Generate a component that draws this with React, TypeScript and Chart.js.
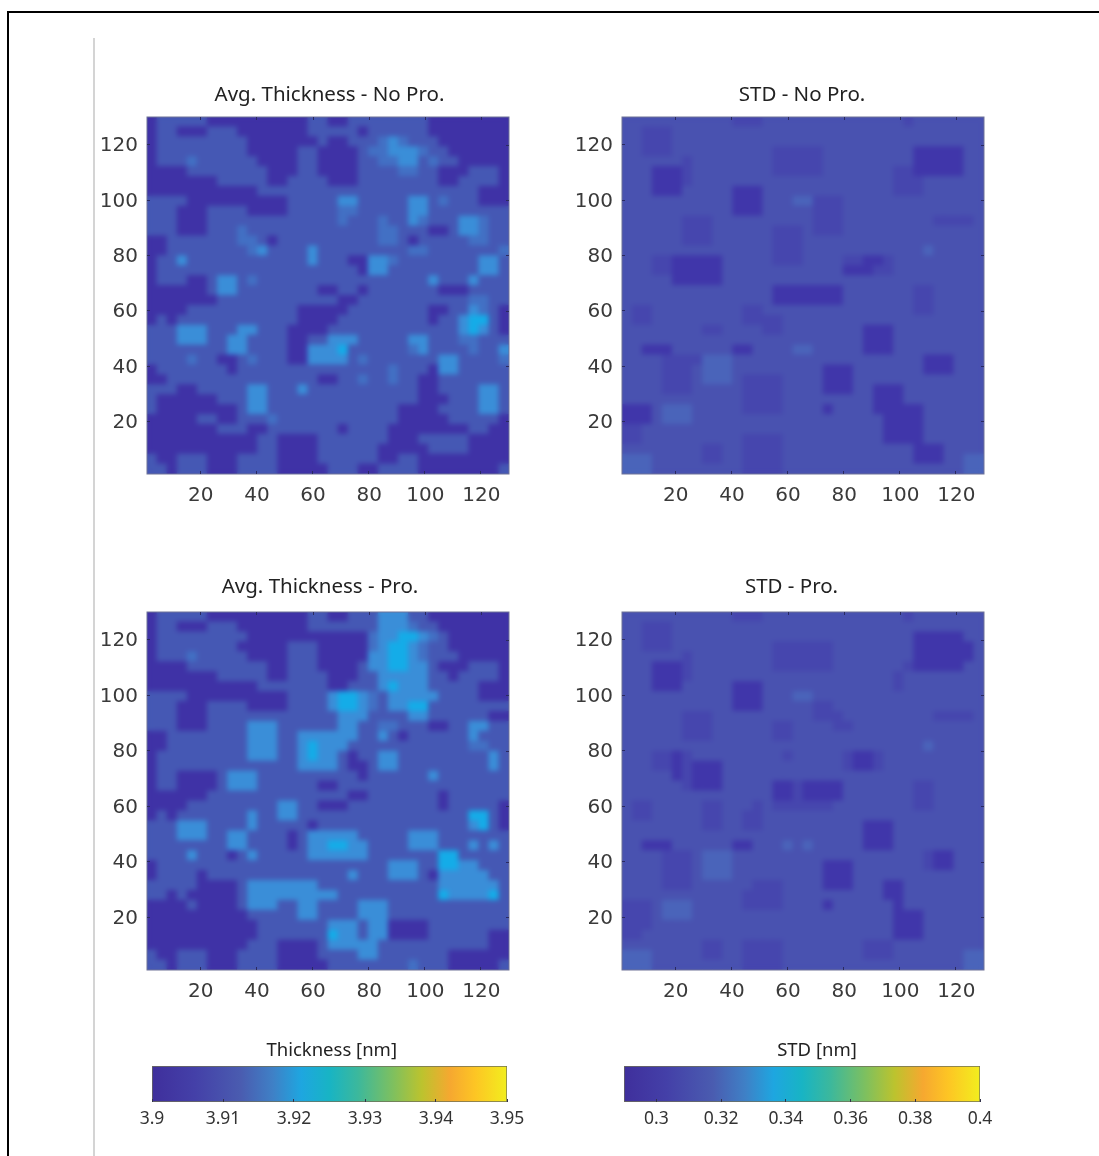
import React, { useEffect, useRef } from "react";
import { Chart, registerables } from "chart.js";

Chart.register(...registerables);

const axisTicks = [20, 40, 60, 80, 100, 120];
const thicknessTicks = [3.9, 3.91, 3.92, 3.93, 3.94, 3.95];
const stdTicks = [0.3, 0.32, 0.34, 0.36, 0.38, 0.4];
const thicknessRange = [3.9, 3.95];
const stdRange = [0.29, 0.4];

const rampStops = [0, 0.12, 0.25, 0.34, 0.42, 0.5, 0.58, 0.68, 0.76, 0.84, 0.91, 1];
const rampColors = ["#3f2f9c", "#4440a8", "#4a5cb0", "#3f80c6", "#1ea6e0", "#18b4c4", "#3cb89c", "#7fc05e", "#bcc32e", "#f6a830", "#fdc524", "#f2ee1e"];

const thicknessLevels = ["#3f32a6", "#4558b4", "#4270c4", "#3a8ed8", "#14ace8"];
const stdLevels = ["#4036aa", "#4646ae", "#4952b0", "#4a64ba"];

const avgNoPro = [
"011111 000000 000011 001111 111100 000000",
"011000 111000 000011 111011 111100 000000",
"011111 111100 000001 001112 321110 000000",
"011111 111100 000110 000122 333211 000000",
"011121 111110 000110 000112 233121 100000",
"000011 111111 000110 000111 122110 001110",
"000000 011111 001111 000111 111110 011110",
"000000 000001 111111 111111 111111 111000",
"111100 000000 001111 133111 113312 111000",
"111000 111100 001111 122111 113311 111111",
"111000 111111 111111 121112 113211 133211",
"111000 111211 111111 111112 211100 133211",
"001111 111221 011111 111112 210111 112211",
"001111 111123 111131 111111 112211 111112",
"011311 111111 111131 110033 211111 111331",
"011111 111111 111111 111033 111111 111331",
"011100 133121 111111 111111 111131 113111",
"000000 133111 111110 011011 111110 001111",
"000000 011111 111111 100111 111111 112211",
"000011 111111 111000 001111 111100 113210",
"010111 111111 111000 011111 111101 134410",
"111333 111331 110000 111111 111111 134310",
"111333 113311 110011 333111 113311 122111",
"111111 113311 110033 341111 112311 112113",
"111121 100121 110033 331211 111113 311112",
"011111 110111 111111 111111 211103 311111",
"001111 111111 111110 011211 211001 111111",
"111001 111133 111311 111111 111001 111331",
"100000 011133 111111 111111 111000 111331",
"100000 000133 111111 111111 100001 111331",
"000001 100111 211111 111111 100000 111110",
"000000 011100 111111 101111 000000 001100",
"000000 000001 100001 111111 000111 110000",
"000000 000001 100001 111110 000011 110000",
"100111 000111 100001 111110 011000 000000",
"110111 000111 100000 111001 111000 000001",
];

const avgPro = [
"011111 000000 000011 001113 331100 000000",
"011000 111000 000011 111113 332110 000000",
"011111 111100 000000 000023 344321 000000",
"011111 111000 001110 000023 443211 000000",
"011121 111100 001110 000033 443211 100000",
"000011 111111 001110 000133 443310 001110",
"000000 011111 001111 000113 333311 011110",
"000000 000001 111111 001113 433311 111000",
"111100 000000 001111 344321 333331 111000",
"111000 111100 001111 344321 334411 111111",
"111000 111111 111111 133311 113311 111100",
"111000 111133 311111 133112 211100 113311",
"001111 111133 311333 333113 101111 113111",
"001111 111133 311343 331111 111111 112211",
"011111 111133 311343 310113 311111 111131",
"011111 111111 111333 310013 311111 111131",
"011000 013331 111111 111011 111131 111111",
"011000 013331 111110 011111 111111 111111",
"000000 111111 111111 110011 111110 111111",
"000011 111111 133110 001111 111110 111110",
"010111 111131 133111 111111 111111 114410",
"111333 111131 111101 111111 111111 113410",
"111333 113311 110133 333111 113331 111111",
"111111 113311 110133 443311 113331 113131",
"111131 110131 111133 333311 111114 411111",
"011111 111111 111111 111111 333114 433111",
"011110 111111 111111 113111 333103 333311",
"111110 000133 333331 111111 111113 333331",
"110100 000133 333333 311111 111114 333341",
"000010 000133 311331 111333 111111 111111",
"000000 000011 111331 111333 111111 111111",
"000000 000001 111111 333133 000011 111111",
"000000 000001 111111 433133 000011 111100",
"000000 000011 100001 333331 111111 111100",
"100111 000111 100001 111331 111111 000000",
"110111 000111 100000 111111 112111 000001",
];

const stdNoPro = [
"222222 222221 112222 222222 222212 222222",
"221112 222222 222222 222222 222222 222222",
"221112 222222 222222 222222 222222 222222",
"221112 222222 222111 112222 222220 000022",
"222222 122222 222111 112222 222220 000022",
"222000 122222 222111 112222 222110 000022",
"222000 122222 222222 222222 222111 222222",
"222000 222220 002222 222222 222111 222222",
"222222 222220 002223 311122 222222 222222",
"222222 222220 002222 211122 222222 222222",
"222222 111222 222222 211122 222222 211112",
"222222 111222 222111 211122 222222 222222",
"222222 111222 222111 222222 222222 222222",
"222222 222222 222111 222222 222222 322222",
"222110 000022 222111 222211 001222 222222",
"222110 000022 222222 222200 011222 222222",
"222220 000022 222222 222222 222222 222222",
"222222 222222 222000 000022 222221 122222",
"222222 222222 222000 000022 222221 122222",
"211222 222222 112222 222222 222221 122222",
"211222 222222 111122 222222 222222 222222",
"222222 221122 221122 222222 000222 222222",
"222222 222222 222222 222222 000222 222222",
"220002 222220 022223 322222 000222 222222",
"222211 113332 222222 222222 222222 000222",
"222211 123332 222222 220002 222222 000222",
"222211 123332 111122 220002 222222 222222",
"222211 122222 111122 220002 200022 222222",
"222222 222222 111122 222222 200022 222222",
"000233 322222 111122 220222 200000 222222",
"000233 322222 222222 222222 220000 222222",
"112222 222222 222222 222222 220000 222222",
"112222 222222 111122 222222 220000 222222",
"222222 221122 111122 222222 222220 002222",
"333222 221122 111122 222222 222220 002233",
"333222 222222 111122 222222 222222 222233",
];

const stdPro = [
"222222 222221 112222 222222 222212 222222",
"221112 222222 222222 222222 222222 222222",
"221112 222222 222222 222222 222220 000022",
"221112 222222 222111 111222 222220 000002",
"222222 122222 222111 111222 222220 000002",
"222000 122222 222111 111222 222210 000022",
"222000 122222 222222 222222 222122 222222",
"222000 222220 002222 222222 222122 222222",
"222222 222220 002223 322222 222222 222222",
"222222 222220 002222 211222 222222 222222",
"222222 111222 222222 211122 222222 211112",
"222222 111222 222112 222112 222222 222222",
"222222 111222 222112 222222 222222 222222",
"222222 222222 222222 222222 222222 322222",
"222110 122222 222212 222210 012222 222222",
"222110 100022 222222 222210 012222 222222",
"222220 100022 222222 222222 222222 222222",
"222222 100022 222001 000022 222221 122222",
"222222 222222 222001 000022 222221 122222",
"211222 221122 212111 111222 222221 122222",
"211222 221122 112222 222222 222222 222222",
"222222 221122 112222 222222 000222 222222",
"222222 222222 222222 222222 000222 222222",
"220002 222220 022232 322222 000222 222222",
"222211 123332 222222 222222 222222 100222",
"222211 123332 222222 220002 222222 100222",
"222211 123332 222222 220002 222222 222222",
"222211 122222 211122 220002 220022 222222",
"222222 222222 111122 222222 220022 222222",
"111233 322222 111122 220222 222022 222222",
"111233 322222 222222 222222 222000 222222",
"111222 222222 222222 222222 222000 222222",
"112222 222222 222222 222222 222000 222222",
"222222 221122 111122 222222 111222 222222",
"333222 221122 111122 222222 111222 222233",
"333222 222222 111122 222222 222222 222233",
];

const panelTitles = ["Avg. Thickness - No Pro.", "STD - No Pro.", "Avg. Thickness - Pro.", "STD - Pro."];

const titleFont = '"Noto Sans", sans-serif';
const tickFont = '"DejaVu Sans", sans-serif';

function textPlugin(text: string, x: number, y: number, size: number) {
  return {
    id: "placedTitle",
    afterDraw(chart: any) {
      const { ctx } = chart;
      ctx.save();
      ctx.font = `${size}px ${titleFont}`;
      ctx.fillStyle = "#222";
      ctx.textAlign = "center";
      ctx.textBaseline = "middle";
      ctx.fillText(text, x, y);
      ctx.restore();
    },
  };
}

function softPlugin(color: string, blur: number) {
  return {
    id: "softCells",
    afterDatasetsDraw(chart: any) {
      const { ctx, chartArea: a, scales } = chart;
      const w = a.right - a.left;
      const h = a.bottom - a.top;
      ctx.save();
      ctx.beginPath();
      ctx.rect(a.left, a.top, w, h);
      ctx.clip();
      ctx.filter = `blur(${blur}px)`;
      ctx.drawImage(ctx.canvas, a.left, a.top, w, h, a.left, a.top, w, h);
      ctx.restore();
      ctx.save();
      ctx.strokeStyle = color;
      ctx.lineWidth = 1;
      ctx.strokeRect(a.left, a.top, w, h);
      ctx.strokeStyle = "#2a2a60";
      ctx.beginPath();
      axisTicks.forEach((t) => {
        const x = Math.round(scales.x.getPixelForValue(t)) + 0.5;
        const y = Math.round(scales.y.getPixelForValue(t)) + 0.5;
        ctx.moveTo(x, a.top);
        ctx.lineTo(x, a.top + 3);
        ctx.moveTo(a.right, y);
        ctx.lineTo(a.right - 3, y);
      });
      ctx.stroke();
      ctx.restore();
    },
  };
}

function Heatmap({ rows, levels, title, left, top, areaW, areaH, titleCx, titleCy }: any) {
  const ref = useRef<HTMLCanvasElement>(null);
  const gutter = 57;
  const headH = 42;
  const footH = 40;
  const width = gutter + areaW + 10;
  const height = headH + areaH + footH;
  useEffect(() => {
    const grid: string[] = rows.map((r: string) => r.replace(/ /g, ""));
    const n = grid.length;
    const span = 129 / n;
    const points: { x: number; y: number }[] = [];
    const colors: string[] = [];
    grid.forEach((row, r) => {
      row.split("").forEach((ch, c) => {
        points.push({ x: 1 + (c + 0.5) * span, y: 130 - (r + 0.5) * span });
        colors.push(levels[Number(ch)]);
      });
    });
    const chart = new Chart(ref.current as HTMLCanvasElement, {
      type: "scatter",
      data: {
        datasets: [
          {
            data: points,
            clip: 0,
            pointStyle: "rect",
            pointBorderWidth: 0,
            pointBackgroundColor: colors,
            pointRadius: (c: any) => {
              const sx = c.chart.scales.x;
              return ((Math.abs(sx.getPixelForValue(1 + span) - sx.getPixelForValue(1)) + 0.8) / 2) * Math.SQRT2;
            },
          } as any,
        ],
      },
      options: {
        responsive: false,
        animation: false,
        events: [],
        layout: { padding: { left: 0, right: width - gutter - areaW, top: headH, bottom: 0 } },
        plugins: {
          legend: { display: false },
          tooltip: { enabled: false },
          title: { display: false },
        },
        scales: {
          x: {
            type: "linear",
            min: 1,
            max: 130,
            afterFit: (s: any) => { s.height = footH; },
            afterBuildTicks: (s: any) => { s.ticks = axisTicks.map((value) => ({ value })); },
            border: { display: false },
            grid: { display: true, drawOnChartArea: false, z: 1, tickLength: -3, tickColor: "#2a2a60" },
            ticks: { color: "#3a3a3a", padding: 13, maxRotation: 0, labelOffset: 0.5, font: { family: tickFont, size: 20 } },
          },
          y: {
            type: "linear",
            min: 1,
            max: 130,
            afterFit: (s: any) => { s.width = gutter; },
            afterBuildTicks: (s: any) => { s.ticks = axisTicks.map((value) => ({ value })); },
            border: { display: false },
            grid: { display: true, drawOnChartArea: false, z: 1, tickLength: -3, tickColor: "#2a2a60" },
            ticks: { color: "#3a3a3a", padding: 12, labelOffset: 1.5, font: { family: tickFont, size: 20 } },
          },
        },
      },
      plugins: [softPlugin("#6f7398", 2.6), textPlugin(title, titleCx - left, titleCy - (top - headH), 20.5)],
    } as any);
    return () => chart.destroy();
  }, []);
  return (
    <canvas
      ref={ref}
      width={width}
      height={height}
      style={{ position: "absolute", left, top: top - headH, width, height }}
    />
  );
}

function ColorBar({ title, range, ticks, left, top, areaW, titleCx, titleCy }: any) {
  const ref = useRef<HTMLCanvasElement>(null);
  const headH = 30;
  const areaH = 36;
  const footH = 34;
  const canvasLeft = left - 50;
  const width = areaW + 100;
  const height = headH + areaH + footH;
  useEffect(() => {
    const chart = new Chart(ref.current as HTMLCanvasElement, {
      type: "bar",
      data: {
        labels: [title],
        datasets: [
          {
            data: [range],
            barPercentage: 1,
            categoryPercentage: 1,
            borderSkipped: false,
            borderWidth: 1,
            borderColor: "#6e6e58",
            backgroundColor: (c: any) => {
              const a = c.chart.chartArea;
              if (!a) return rampColors[0];
              const g = c.chart.ctx.createLinearGradient(a.left, 0, a.right, 0);
              rampStops.forEach((s, i) => g.addColorStop(s, rampColors[i]));
              return g;
            },
          } as any,
        ],
      },
      options: {
        indexAxis: "y",
        responsive: false,
        animation: false,
        events: [],
        layout: { padding: { left: 50, right: 50, top: headH, bottom: 0 } },
        plugins: {
          legend: { display: false },
          tooltip: { enabled: false },
          title: { display: false },
        },
        scales: {
          x: {
            type: "linear",
            min: range[0],
            max: range[1],
            afterFit: (s: any) => { s.height = footH; },
            afterBuildTicks: (s: any) => { s.ticks = ticks.map((value: number) => ({ value })); },
            border: { display: false },
            grid: { display: true, drawOnChartArea: false, z: 1, tickLength: -3, tickColor: "#33334a" },
            ticks: {
              color: "#333",
              padding: 10,
              maxRotation: 0,
              callback: (v: any) => String(v),
              font: { family: titleFont, size: 17.5 },
            },
          },
          y: { display: false },
        },
      },
      plugins: [textPlugin(title, titleCx - canvasLeft, titleCy - (top - headH), 18.5)],
    } as any);
    return () => chart.destroy();
  }, []);
  return (
    <canvas
      ref={ref}
      width={width}
      height={height}
      style={{ position: "absolute", left: canvasLeft, top: top - headH, width, height }}
    />
  );
}

export default function App() {
  return (
    <div style={{ position: "absolute", left: 0, top: 0, width: 1099, height: 1156, overflow: "hidden", background: "#fff" }}>
      <div style={{ position: "absolute", left: 7, top: 11, width: 1092, height: 2, background: "#000" }} />
      <div style={{ position: "absolute", left: 7, top: 11, width: 2, height: 1145, background: "#000" }} />
      <div style={{ position: "absolute", left: 93, top: 38, width: 2, height: 1118, background: "#d4d4d4" }} />
      <Heatmap rows={avgNoPro} levels={thicknessLevels} title={panelTitles[0]} left={90} top={117} areaW={362} areaH={357} titleCx={329.5} titleCy={95} />
      <Heatmap rows={stdNoPro} levels={stdLevels} title={panelTitles[1]} left={565} top={117} areaW={362} areaH={357} titleCx={802} titleCy={95} />
      <Heatmap rows={avgPro} levels={thicknessLevels} title={panelTitles[2]} left={90} top={612} areaW={362} areaH={358} titleCx={320} titleCy={587} />
      <Heatmap rows={stdPro} levels={stdLevels} title={panelTitles[3]} left={565} top={612} areaW={362} areaH={358} titleCx={791.5} titleCy={587} />
      <ColorBar title="Thickness [nm]" range={thicknessRange} ticks={thicknessTicks} left={152} top={1066} areaW={355} titleCx={331.7} titleCy={1051} />
      <ColorBar title="STD [nm]" range={stdRange} ticks={stdTicks} left={624} top={1066} areaW={356} titleCx={817} titleCy={1051} />
    </div>
  );
}
